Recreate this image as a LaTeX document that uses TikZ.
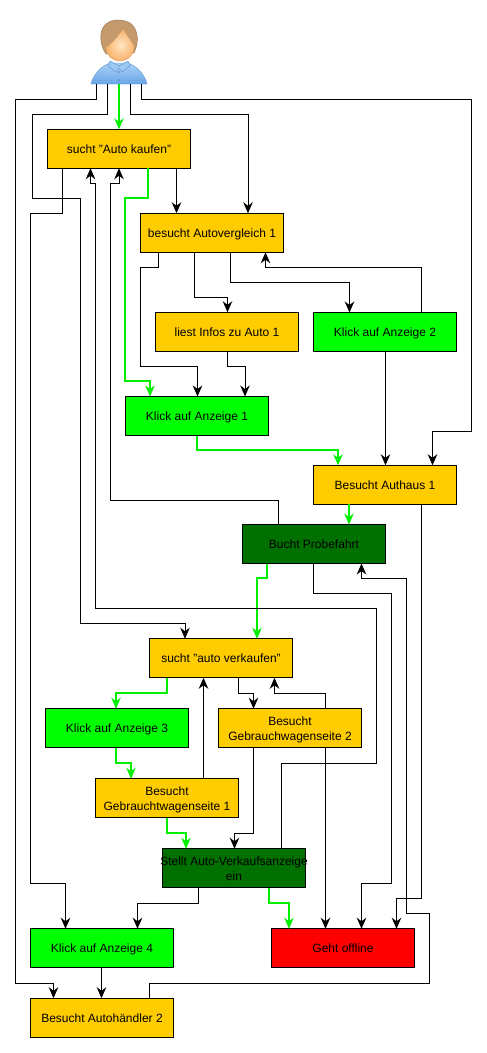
\documentclass[tikz,border=0pt]{standalone}
\usepackage{fontspec}
\setmainfont{Liberation Sans}
\usetikzlibrary{arrows.meta}
\definecolor{boxorange}{HTML}{FFCC00}
\definecolor{boxgreen}{HTML}{00FF00}
\definecolor{boxdark}{HTML}{007000}
\definecolor{boxred}{HTML}{FF0000}
\definecolor{linegreen}{HTML}{00EE00}
\definecolor{hairbrown}{HTML}{C49A6C}
\definecolor{hairedge}{HTML}{9A7650}
\definecolor{skinlight}{HTML}{FFE6C4}
\definecolor{skindark}{HTML}{F9B26C}
\definecolor{shirtlight}{HTML}{A8D2F8}
\definecolor{shirtdark}{HTML}{6BA6E6}
\definecolor{shirtedge}{HTML}{5B8FCB}
\tikzset{
  stepbox/.style={draw=black, line width=1pt, minimum width=143, minimum height=39, inner sep=0pt, outer sep=0pt, align=center, text depth=-3pt, font=\fontsize{12}{15}\selectfont},
  orangebox/.style={stepbox, fill=boxorange},
  greenbox/.style={stepbox, fill=boxgreen},
  darkbox/.style={stepbox, fill=boxdark},
  redbox/.style={stepbox, fill=boxred},
  flow/.style={draw=black, line width=1pt, -{Stealth[length=11pt, width=9.5pt, inset=3.5pt]}},
  greenflow/.style={draw=linegreen, line width=1.1pt, -{Stealth[length=11pt, width=9.5pt, inset=3.5pt]}}
}
\begin{document}
\begin{tikzpicture}[x=1pt, y=-1pt]
  \useasboundingbox (0,0) rectangle (487,1053);

  % Person
  \node[minimum width=56, minimum height=64, inner sep=0pt, outer sep=0pt] (user) at (119,52) {};
  \shade[top color=shirtlight, bottom color=shirtdark, draw=shirtedge, line width=0.4pt]
    (91,84) .. controls (93,75) and (101,66) .. (110,63) -- (128,63) .. controls (137,66) and (145,75) .. (147,84) -- cycle;
  \fill[shirtlight!80!shirtdark, draw=shirtedge, line width=0.4pt] (110,61) -- (119,66) -- (128,61) -- (130,66) -- (122,72) -- (119,68) -- (116,72) -- (108,66) -- cycle;
  \fill[shirtedge] (119,72) circle (1) (119,80) circle (1);
  \fill[hairbrown, draw=hairedge, line width=0.4pt]
    (106,54) .. controls (99,44) and (98,27) .. (109,22) .. controls (116,18) and (130,20) .. (134,27) .. controls (139,35) and (138,44) .. (134,53) -- cycle;
  \shade[inner color=skinlight, outer color=skindark, draw=skindark!85!black, line width=0.3pt]
    (106,47) .. controls (112,44) and (118,36) .. (123,29) .. controls (127,35) and (131,41) .. (134,45) .. controls (135,55) and (127,61) .. (120,61) .. controls (112,61) and (106,55) .. (106,47) -- cycle;

  % Boxes buying
  \node[orangebox] (sucheKauf) at (119,148.75) {sucht "Auto kaufen"};
  \node[orangebox] (vergleich) at (212,232.75) {besucht Autovergleich 1};
  \node[orangebox] (infos) at (227,331.75) {liest Infos zu Auto 1};
  \node[greenbox] (anzeigeZwei) at (385,332) {Klick auf Anzeige 2};
  \node[greenbox] (anzeigeEins) at (197,416) {Klick auf Anzeige 1};
  \node[orangebox] (authaus) at (385,484.75) {Besucht Authaus 1};
  \node[darkbox] (probefahrt) at (314,544) {Bucht Probefahrt};

  % Boxes selling
  \node[orangebox] (sucheVerkauf) at (221,658.25) {sucht "auto verkaufen"};
  \node[greenbox] (anzeigeDrei) at (117,728.25) {Klick auf Anzeige 3};
  \node[orangebox] (seiteZwei) at (290,728.25) {Besucht\\Gebrauchwagenseite 2};
  \node[orangebox] (seiteEins) at (167,798.25) {Besucht\\Gebrauchtwagenseite 1};
  \node[darkbox] (verkaufsanzeige) at (234,868.25) {\makebox[0pt]{Stellt Auto-Verkaufsanzeige}\\ein};
  \node[greenbox] (anzeigeVier) at (102,948.25) {Klick auf Anzeige 4};
  \node[redbox] (offline) at (343,948.25) {Geht offline};
  \node[orangebox] (autohaendler) at (102,1017.75) {Besucht Autohändler 2};

  % Person to boxes
  \draw[flow] (96.5,0 |- user.south) |- (15.5,99) |- (53.5,983) -- (53.5,0 |- autohaendler.north);
  \draw[flow] (107.5,0 |- user.south) |- (32.5,114.5) |- (80.5,198.5) |- (185,623) -- (185,0 |- sucheVerkauf.north);
  \draw[greenflow] (119,0 |- user.south) -- (119,0 |- sucheKauf.north);
  \draw[flow] (130.5,0 |- user.south) |- (248,114.5) -- (248,0 |- vergleich.north);
  \draw[flow] (141.5,0 |- user.south) |- (471.5,99) |- (432.5,431.5) -- (432.5,0 |- authaus.north);

  % From sucht Auto kaufen
  \draw[flow] (62.5,0 |- sucheKauf.south) |- (30.5,213.5) |- (65.5,883) -- (65.5,0 |- anzeigeVier.north);
  \draw[greenflow] (148,0 |- sucheKauf.south) |- (125,198) |- (150,381) -- (150,0 |- anzeigeEins.north);
  \draw[flow] (176.5,0 |- sucheKauf.south) -- (176.5,0 |- vergleich.north);

  % From Autovergleich
  \draw[flow] (158.5,0 |- vergleich.south) |- (140.5,267.5) |- (197.5,366.5) -- (197.5,0 |- anzeigeEins.north);
  \draw[flow] (194.5,0 |- vergleich.south) |- (227.5,297.5) -- (227.5,0 |- infos.north);
  \draw[flow] (230.5,0 |- vergleich.south) |- (349.5,282.5) -- (349.5,0 |- anzeigeZwei.north);
  \draw[flow] (421.5,0 |- anzeigeZwei.north) |- (265.5,267.5) -- (265.5,0 |- vergleich.south);
  \draw[flow] (227.5,0 |- infos.south) |- (245,366.5) -- (245,0 |- anzeigeEins.north);
  \draw[flow] (385.5,0 |- anzeigeZwei.south) -- (385.5,0 |- authaus.north);
  \draw[greenflow] (197,0 |- anzeigeEins.south) |- (338,450) -- (338,0 |- authaus.north);

  % From Authaus and Probefahrt
  \draw[greenflow] (349,0 |- authaus.south) -- (349,0 |- probefahrt.north);
  \draw[flow] (421.5,0 |- authaus.south) |- (396.5,898) -- (396.5,0 |- offline.north);
  \draw[flow] (278.5,0 |- probefahrt.north) |- (110.5,500.5) |- (119,183) -- (119,0 |- sucheKauf.south);
  \draw[greenflow] (267,0 |- probefahrt.south) |- (257,578) -- (257,0 |- sucheVerkauf.north);
  \draw[flow] (313.5,0 |- probefahrt.south) |- (391.5,593.5) |- (361.5,883) -- (361.5,0 |- offline.north);

  % From sucht auto verkaufen
  \draw[greenflow] (167,0 |- sucheVerkauf.south) |- (116,693) -- (116,0 |- anzeigeDrei.north);
  \draw[flow] (238.5,0 |- sucheVerkauf.south) |- (253.5,693.5) -- (253.5,0 |- seiteZwei.north);
  \draw[flow] (325.5,0 |- seiteZwei.north) |- (274.5,693.5) -- (274.5,0 |- sucheVerkauf.south);
  \draw[flow] (203.5,0 |- seiteEins.north) -- (203.5,0 |- sucheVerkauf.south);
  \draw[greenflow] (116,0 |- anzeigeDrei.south) |- (131,763) -- (131,0 |- seiteEins.north);
  \draw[flow] (253.5,0 |- seiteZwei.south) |- (234.5,833.5) -- (234.5,0 |- verkaufsanzeige.north);
  \draw[flow] (325.5,0 |- seiteZwei.south) -- (325.5,0 |- offline.north);
  \draw[greenflow] (167,0 |- seiteEins.south) |- (186,833) -- (186,0 |- verkaufsanzeige.north);

  % From Verkaufsanzeige
  \draw[flow] (281.5,0 |- verkaufsanzeige.north) |- (376.5,763.5) |- (95.5,608.5) |- (90.5,183) -- (90.5,0 |- sucheKauf.south);
  \draw[flow] (198.5,0 |- verkaufsanzeige.south) |- (137.5,903.5) -- (137.5,0 |- anzeigeVier.north);
  \draw[greenflow] (269,0 |- verkaufsanzeige.south) |- (289,903) -- (289,0 |- offline.north);

  % Bottom row
  \draw[flow] (101.5,0 |- anzeigeVier.south) -- (101.5,0 |- autohaendler.north);
  \draw[flow] (149.5,0 |- autohaendler.north) |- (429.5,983) |- (406.5,913.5) |- (361.5,578.5) -- (361.5,0 |- probefahrt.south);
\end{tikzpicture}
\end{document}
